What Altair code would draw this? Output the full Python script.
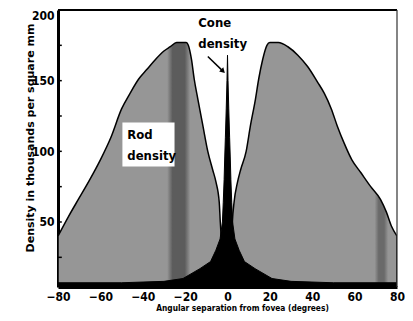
import altair as alt
import pandas as pd

# Rod density (thousands per mm^2) vs angular separation (degrees)
rod_deg = [-80, -75, -70, -65, -60, -55, -50, -46, -42, -38, -34, -30, -27, -24, -19.5, -18.5,
           -17, -15.7, -14, -11.6, -9.3, -7, -5.4, -3.9, -3.4, -2.5, -1.5, 0, 1.2, 1.8, 2.3, 3.1,
           4.7, 6.2, 8.8, 10.8, 13.2, 14.7, 16.6, 18.6, 20, 24, 28.5, 33.2, 37.8, 42.5, 45.7, 49,
           51.8, 55, 58.7, 62.9, 67.6, 72.2, 75, 77.4, 80]
rod_val = [40, 54, 67, 80, 94, 110, 130, 141, 151, 158, 165, 171, 174, 177, 177, 175,
           165, 151, 137, 118, 100, 87, 78, 64, 50, 30, 12, 0, 12, 30, 50, 64,
           78, 87, 100, 118, 137, 151, 165, 175, 177, 177, 174, 168, 160, 149, 141, 130,
           118, 106, 94, 85, 75, 66, 57, 47, 40]

# Cone density
cone_deg = [-80, -50, -30, -21, -13, -8, -5.5, -3.5, -2.4, -2.0, -1.6, -1.3, -1.0, -0.6, -0.25, 0,
            0.25, 0.6, 1.0, 1.3, 1.6, 2.0, 2.4, 3.5, 5.5, 8, 13, 21, 30, 50, 80]
cone_val = [7, 7, 8, 10, 17, 22, 30, 38, 50, 64, 80, 96, 110, 130, 150, 168,
            150, 130, 110, 96, 80, 64, 50, 38, 30, 22, 17, 10, 8, 7, 7]

x_tick_values = [-80, -60, -40, -20, 0, 20, 40, 60, 80]
y_label_values = [50, 100, 150, 200]
y_minor_ticks = [25, 50, 75, 100, 125, 150, 175]
x_minor_ticks = [-60, -40, 40, 60]

ann_text = ["Cone", "density", "Rod", "density"]
ann_deg = [-13.8, -13.8, -47.3, -47.3]
ann_val = [190.9, 176.0, 111.9, 97.0]

box_deg = [-49.6]
box_deg2 = [-25.0]
box_val = [120.4]
box_val2 = [89.3]

arrow_deg = [-9.29]
arrow_val = [167.1]
arrow_deg2 = [-2.4]
arrow_val2 = [157.1]

FONT = "DejaVu Sans Condensed"

rod = pd.DataFrame({"deg": rod_deg, "val": rod_val})
cone = pd.DataFrame({"deg": cone_deg, "val": cone_val})
ann = pd.DataFrame({"deg": ann_deg, "val": ann_val, "label": ann_text})
box = pd.DataFrame({"deg": box_deg, "deg2": box_deg2, "val": box_val, "val2": box_val2})
arrow = pd.DataFrame({"deg": arrow_deg, "val": arrow_val, "deg2": arrow_deg2, "val2": arrow_val2})
top_edge = pd.DataFrame({"deg": [-80], "deg2": [80], "val": [200]})
right_edge = pd.DataFrame({"deg": [80], "val": [4], "val2": [200]})
yt = pd.DataFrame({"val": y_minor_ticks, "deg": [-80] * len(y_minor_ticks), "deg2": [-78.2] * len(y_minor_ticks)})
xt = pd.DataFrame({"deg": x_minor_ticks, "val": [4] * len(x_minor_ticks), "val2": [6.3] * len(x_minor_ticks)})

x_scale = alt.Scale(domain=[-80, 80], nice=False, zero=False)
y_scale = alt.Scale(domain=[4, 200], nice=False, zero=False)

x_axis = alt.Axis(values=x_tick_values, format="d", labelFont=FONT, labelFontSize=12,
                  labelFontWeight="bold", labelColor="black", ticks=False, tickSize=0,
                  labelPadding=4, labelFlush=False, labelOverlap=False, domainWidth=3,
                  domainColor="black", grid=False, titleFont=FONT,
                  titleFontSize=8.3, titleFontWeight="bold", titleColor="black",
                  titleX=184, titleY=21, titleBaseline="middle")
y_axis = alt.Axis(values=y_label_values, format="d", labelFont=FONT, labelFontSize=12,
                  labelFontWeight="bold", labelColor="black", ticks=False, tickSize=0,
                  labelPadding=4, labelFlush=True, labelOverlap=False, domainWidth=3,
                  domainColor="black", grid=False, titleFont="DejaVu Sans",
                  titleFontSize=11, titleFontWeight="bold", titleColor="black",
                  titleX=-28, titleY=127.5, titleAngle=-90, titleBaseline="middle")

X = alt.X("deg:Q", scale=x_scale, axis=x_axis, title="Angular separation from fovea (degrees)")
Y = alt.Y("val:Q", scale=y_scale, axis=y_axis, title="Density in thousands per square mm")

base_gray = "#969696"
dark_gray = "#5c5c5c"
grad = alt.Gradient(
    gradient="linear", x1=0, x2=1, y1=0, y2=0,
    stops=[
        alt.GradientStop(color=base_gray, offset=0),
        alt.GradientStop(color=base_gray, offset=0.322),
        alt.GradientStop(color=dark_gray, offset=0.338),
        alt.GradientStop(color=dark_gray, offset=0.374),
        alt.GradientStop(color=base_gray, offset=0.39),
        alt.GradientStop(color=base_gray, offset=0.934),
        alt.GradientStop(color="#6a6a6a", offset=0.946),
        alt.GradientStop(color="#6a6a6a", offset=0.962),
        alt.GradientStop(color=base_gray, offset=0.974),
        alt.GradientStop(color=base_gray, offset=1),
    ],
)

rod_layer = alt.Chart(rod).mark_area(fill=grad, stroke="black", strokeWidth=1.5,
                                     interpolate="monotone", clip=True).encode(
    x=X, y=Y, y2=alt.datum(4))

cone_layer = alt.Chart(cone).mark_area(fill="black", stroke="black", strokeWidth=1,
                                       clip=True).encode(x=X, y=Y, y2=alt.datum(4))

box_layer = alt.Chart(box).mark_rect(fill="white").encode(
    x=X, x2="deg2:Q", y=Y, y2="val2:Q")

text_layer = alt.Chart(ann).mark_text(align="left", baseline="middle", font=FONT,
                                      fontSize=13, fontWeight="bold", color="black").encode(
    x=X, y=Y, text="label:N")

arrow_line = alt.Chart(arrow).mark_rule(color="black", strokeWidth=1.5).encode(
    x=X, y=Y, x2="deg2:Q", y2="val2:Q")
arrow_head = alt.Chart(arrow).mark_point(shape="triangle", filled=True, color="black",
                                         size=35, angle=135, opacity=1).encode(
    x=alt.X("deg2:Q", scale=x_scale, axis=x_axis, title="Angular separation from fovea (degrees)"),
    y=alt.Y("val2:Q", scale=y_scale, axis=y_axis, title="Density in thousands per square mm"))

top_layer = alt.Chart(top_edge).mark_rule(color="black", strokeWidth=2).encode(
    x=X, x2="deg2:Q", y=Y)
right_layer = alt.Chart(right_edge).mark_rule(color="#333333", strokeWidth=1.2).encode(
    x=X, y=Y, y2="val2:Q")

ytick_layer = alt.Chart(yt).mark_rule(color="black", strokeWidth=1.5).encode(
    x=X, x2="deg2:Q", y=Y)
xtick_layer = alt.Chart(xt).mark_rule(color="black", strokeWidth=1.5).encode(
    x=X, y=Y, y2="val2:Q")

chart = alt.layer(rod_layer, cone_layer, box_layer, text_layer, arrow_line, arrow_head,
                  top_layer, right_layer, ytick_layer, xtick_layer).properties(
    width=339, height=277,
    autosize=alt.AutoSizeParams(type="none"),
    padding={"left": 50, "top": 2, "right": 8, "bottom": 26},
    background="white",
).configure_view(stroke=None)

chart.save("out.html", embed_options={"renderer": "svg", "actions": False})
